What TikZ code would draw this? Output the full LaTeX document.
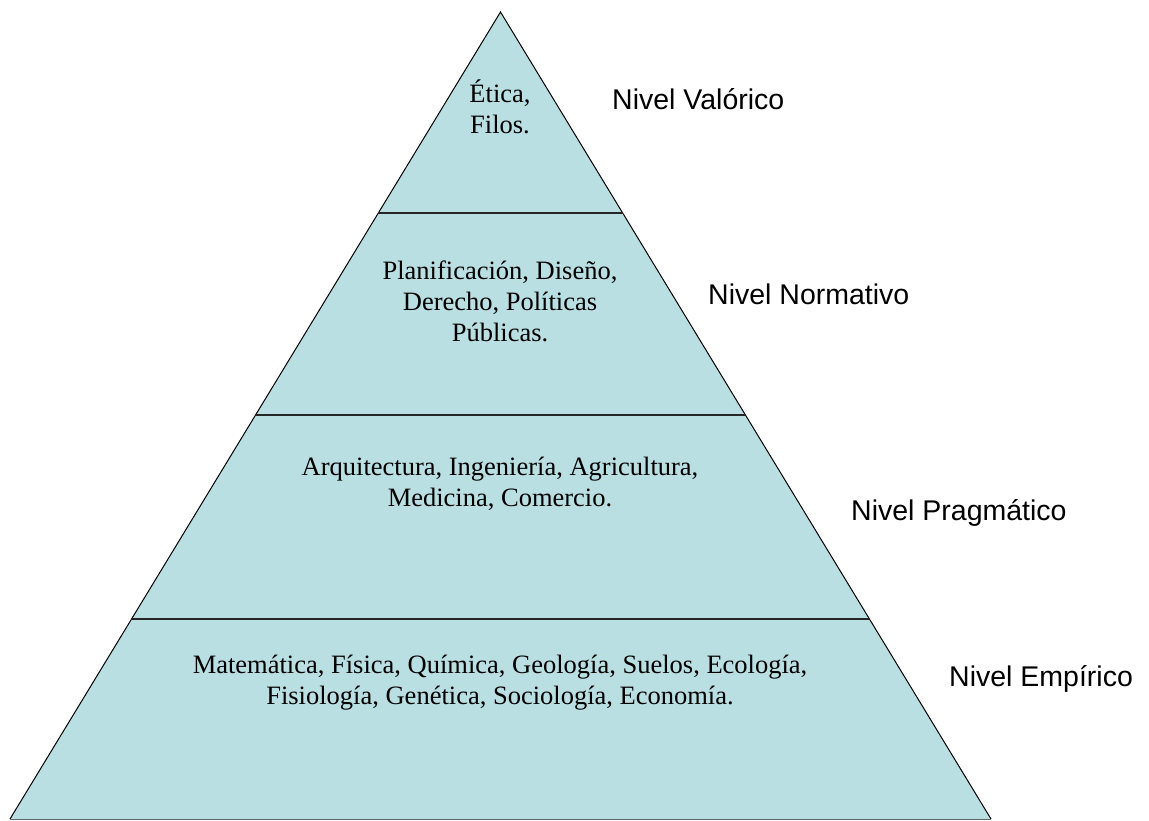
\documentclass[tikz,border=0pt]{standalone}
\usepackage{fontspec}
\setmainfont{Liberation Serif}
\newfontfamily\labelfont{Liberation Sans}
\usetikzlibrary{calc}
\definecolor{pyrfill}{HTML}{B9DFE2}
\tikzset{
  level/.style={font=\fontsize{26.5}{31}\selectfont, align=center, anchor=base, inner sep=0pt},
  side/.style={font=\labelfont\fontsize{28.5}{33}\selectfont, anchor=base west, inner sep=0pt},
  edge/.style={draw=black, line width=1pt},
  divider/.style={draw=black!85, line width=2pt}
}
\begin{document}
\begin{tikzpicture}[x=1pt,y=-1pt]
\useasboundingbox (0,0) rectangle (1149,821);
\coordinate (apex) at (500.5,12);
\coordinate (bl) at (10,819);
\coordinate (br) at (991,819);
\fill[pyrfill] (apex) -- (bl) -- (br) -- cycle;
\draw[edge] (bl) -- (apex) -- (br);
\draw[draw=black!60, line width=1pt] (bl) -- (br);
\coordinate (l1) at ($(apex)!0.2491!(bl)$);
\coordinate (r1) at ($(apex)!0.2491!(br)$);
\coordinate (l2) at ($(apex)!0.4994!(bl)$);
\coordinate (r2) at ($(apex)!0.4994!(br)$);
\coordinate (l3) at ($(apex)!0.7522!(bl)$);
\coordinate (r3) at ($(apex)!0.7522!(br)$);
\draw[divider] (l1) -- (r1);
\draw[divider] (l2) -- (r2);
\draw[divider] (l3) -- (r3);
\node[level] (t1) at (500,134) {Ética,\\Filos.};
\node[level] (t2) at (500,341) {Planificación, Diseño,\\Derecho, Políticas\\Públicas.};
\node[level] (t3) at (500,506) {Arquitectura, Ingeniería, Agricultura,\\Medicina, Comercio.};
\node[level] (t4) at (500,704) {Matemática, Física, Química, Geología, Suelos, Ecología,\\Fisiología, Genética, Sociología, Economía.};
\node[side] (n1) at (612,110) {Nivel Valórico};
\node[side] (n2) at (708,305) {Nivel Normativo};
\node[side] (n3) at (851,520) {Nivel Pragmático};
\node[side] (n4) at (949,686) {Nivel Empírico};
\end{tikzpicture}
\end{document}
